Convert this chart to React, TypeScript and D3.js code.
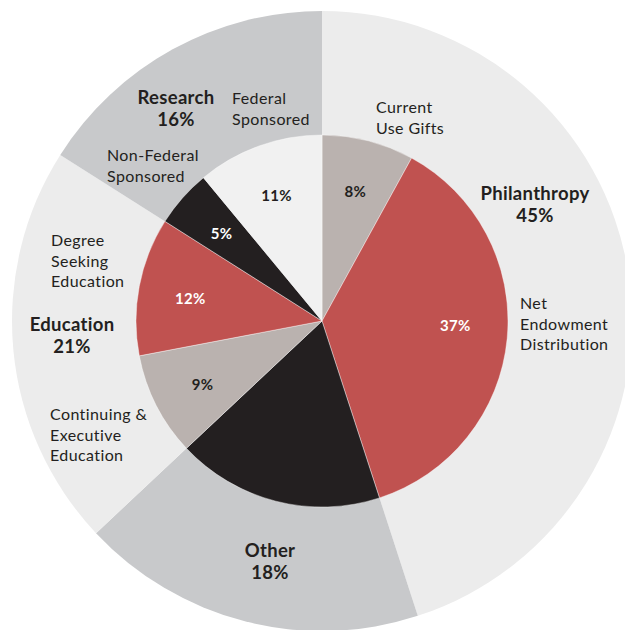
import React from 'react';
import * as d3 from 'd3';

// outer ring: revenue groups
const groups = ['Philanthropy', 'Other', 'Education', 'Research'];
const groupValues = [45, 18, 21, 16];

// inner pie: sources
const sources = [
  'Current Use Gifts',
  'Net Endowment Distribution',
  'Other',
  'Continuing & Executive Education',
  'Degree Seeking Education',
  'Non-Federal Sponsored',
  'Federal Sponsored',
];
const sourceValues = [8, 37, 18, 9, 12, 5, 11];

const WIDTH = 625;
const HEIGHT = 630;
const cx = 322;
const cy = 321;
const R_OUTER = 310;
const R_INNER = 186;

const groupColors = ['#ececec', '#c8c9cb', '#ececec', '#c8c9cb'];
const sourceColors = ['#bab2af', '#c05250', '#231f20', '#bab2af', '#c05250', '#231f20', '#f1f1f1'];
const pctColors = ['#231f20', '#ffffff', null, '#231f20', '#ffffff', '#ffffff', '#231f20'];
const pctNudge = [0, -9, 0, 2, 2, 1, 0];

const TEXT = '#231f20';
const FONT = 'Lato, "Open Sans", sans-serif';

// annotation placement (offsets from pie centre)
const groupLabelPos: Record<string, { x: number; y: number }> = {
  Philanthropy: { x: 213, y: -121 },
  Other: { x: -52, y: 236 },
  Education: { x: -250, y: 10 },
  Research: { x: -146, y: -217 },
};
const sourceLabelPos: Record<string, { x: number; y: number; lines: string[] }> = {
  'Current Use Gifts': { x: 54, y: -208, lines: ['Current', 'Use Gifts'] },
  'Net Endowment Distribution': { x: 198, y: -12, lines: ['Net', 'Endowment', 'Distribution'] },
  'Continuing & Executive Education': { x: -272, y: 99, lines: ['Continuing &', 'Executive', 'Education'] },
  'Degree Seeking Education': { x: -271, y: -75, lines: ['Degree', 'Seeking', 'Education'] },
  'Non-Federal Sponsored': { x: -215, y: -160, lines: ['Non-Federal', 'Sponsored'] },
  'Federal Sponsored': { x: -90, y: -217, lines: ['Federal', 'Sponsored'] },
};

export default function App() {
  const pie = d3.pie<number>().sort(null).value((d) => d);
  const outerArcs = pie(groupValues);
  const innerArcs = pie(sourceValues);

  const outerArc = d3.arc<d3.PieArcDatum<number>>().innerRadius(0).outerRadius(R_OUTER);
  const innerArc = d3.arc<d3.PieArcDatum<number>>().innerRadius(0).outerRadius(R_INNER);
  const pctArc = d3.arc<d3.PieArcDatum<number>>().innerRadius(134).outerRadius(134);

  return (
    <svg width={WIDTH} height={HEIGHT} style={{ position: 'absolute', left: 0, top: 0 }} fontFamily={FONT}>
      <rect width={WIDTH} height={HEIGHT} fill="#fff" />
      <g transform={`translate(${cx},${cy})`}>
        {outerArcs.map((a, i) => (
          <path key={groups[i]} d={outerArc(a) || ''} fill={groupColors[i]} />
        ))}
        {innerArcs.map((a, i) => (
          <path key={sources[i]} d={innerArc(a) || ''} fill={sourceColors[i]} stroke="#ffffff" strokeWidth={0.4} />
        ))}

        {innerArcs.map((a, i) => {
          if (!pctColors[i]) return null;
          const [x, y] = pctArc.centroid(a);
          return (
            <text key={'p' + i} x={x} y={y + pctNudge[i]} textAnchor="middle" dominantBaseline="central"
              fontSize={15} fontWeight={700} letterSpacing={0.3} fill={pctColors[i] as string}>
              {sourceValues[i]}%
            </text>
          );
        })}

        {groups.map((g, i) => {
          const p = groupLabelPos[g];
          return (
            <text key={'g' + g} x={p.x} y={p.y} textAnchor="middle" fontSize={18.5} fontWeight={700}
              letterSpacing={0.3} fill={TEXT}>
              <tspan x={p.x} dy={0}>{g}</tspan>
              <tspan x={p.x} dy={22}>{groupValues[i]}%</tspan>
            </text>
          );
        })}

        {sources.map((s) => {
          const p = sourceLabelPos[s];
          if (!p) return null;
          return (
            <text key={'s' + s} x={p.x} y={p.y} textAnchor="start" fontSize={16} letterSpacing={0.4} fill={TEXT}>
              {p.lines.map((l, j) => (
                <tspan key={j} x={p.x} dy={j === 0 ? 0 : 20.5}>{l}</tspan>
              ))}
            </text>
          );
        })}
      </g>
    </svg>
  );
}
